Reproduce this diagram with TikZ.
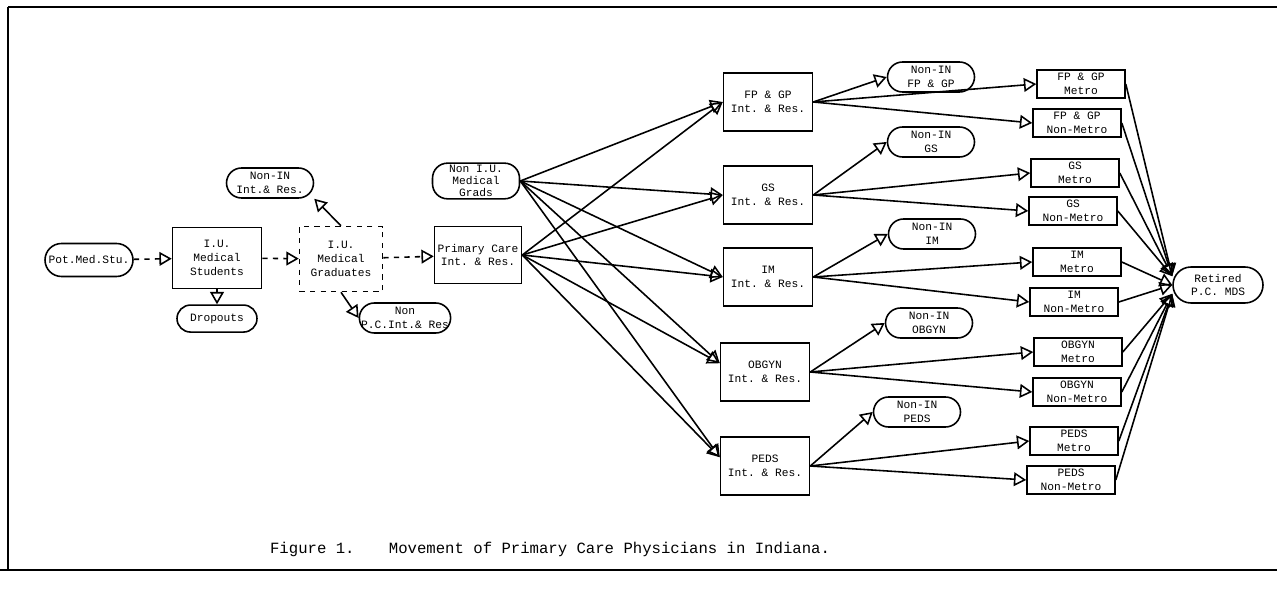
\documentclass[tikz,border=0pt]{standalone}
\usepackage{fontspec}
\setmonofont{Liberation Mono}
\usetikzlibrary{shapes.geometric, arrows, positioning}

\begin{document}
\begin{tikzpicture}[
    x=0.02cm, y=-0.02cm,
    node distance=0.3cm,
    every node/.style={font=\fontsize{6.4}{7.8}\selectfont\ttfamily, align=center, inner sep=1pt},
    box/.style={rectangle, draw, line width=0.9pt, minimum width=1.78cm, minimum height=1.16cm},
    areabox/.style={rectangle, draw, line width=0.9pt, minimum width=1.76cm, minimum height=0.56cm},
    term/.style={rectangle, draw, line width=0.9pt, rounded corners=0.3cm, minimum width=1.74cm, minimum height=0.6cm},
    arrow/.style={line width=0.9pt, -open triangle 60},
    dasharrow/.style={arrow, dashed}
]
\useasboundingbox (0,0) rectangle (1277,597);

% Frame
\draw[line width=1.6pt] (8,7) -- (1277,7);
\draw[line width=1.6pt] (8,7) -- (8,570);
\draw[line width=1.2pt] (0,570) -- (1277,570);

% Students and graduates
\node (potmed) [term, minimum width=1.76cm, minimum height=0.66cm, rounded corners=0.33cm] at (89,260) {Pot.Med.Stu.};
\node (iustud) [box, minimum height=1.22cm] at (217,258) {I.U.\\Medical\\Students};
\node (dropouts) [term, below=of iustud, minimum width=1.6cm, minimum height=0.54cm, rounded corners=0.27cm] {Dropouts};
\node (noninres) [term] at (270,183) {Non-IN\\Int.\& Res.};
\node (iugrad) [box, dashed, minimum width=1.66cm, minimum height=1.3cm] at (341,259) {I.U.\\Medical\\Graduates};
\node (nonpc) [term] at (405,318) {Non\\P.C.Int.\& Res};
\node (nongrad) [term, minimum height=0.64cm, font=\fontsize{6.4}{7}\selectfont\ttfamily] at (476,181) {Non I.U.\\Medical\\Grads};
\node (primcare) [box, minimum width=1.74cm, minimum height=1.14cm] at (478,255) {Primary Care\\Int. \& Res.};

% Internships and residencies
\node (fpgp) [box] at (768,102) {FP \& GP\\Int. \& Res.};
\node (gs) [box] at (768,195) {GS\\Int. \& Res.};
\node (im) [box] at (768,277) {IM\\Int. \& Res.};
\node (obgyn) [box] at (765,372) {OBGYN\\Int. \& Res.};
\node (peds) [box] at (765,466) {PEDS\\Int. \& Res.};

% Leaving the state
\node (nonfpgp) [term] at (931,77) {Non-IN\\FP \& GP};
\node (nongs) [term] at (931,142) {Non-IN\\GS};
\node (nonim) [term] at (932,234) {Non-IN\\IM};
\node (nonobgyn) [term] at (929,323) {Non-IN\\OBGYN};
\node (nonpeds) [term] at (917,412) {Non-IN\\PEDS};

% Practice locations
\node (fpgpm) [areabox] at (1081,84) {FP \& GP\\Metro};
\node (fpgpn) [areabox] at (1077,123) {FP \& GP\\Non-Metro};
\node (gsm) [areabox] at (1075,173) {GS\\Metro};
\node (gsn) [areabox] at (1073,211) {GS\\Non-Metro};
\node (imm) [areabox] at (1077,262) {IM\\Metro};
\node (imn) [areabox] at (1074,302) {IM\\Non-Metro};
\node (obgynm) [areabox] at (1078,352) {OBGYN\\Metro};
\node (obgynn) [areabox] at (1077,392) {OBGYN\\Non-Metro};
\node (pedsm) [areabox] at (1074,441) {PEDS\\Metro};
\node (pedsn) [areabox] at (1071,480) {PEDS\\Non-Metro};
\node (retired) [term, minimum width=1.8cm, minimum height=0.72cm, rounded corners=0.36cm] at (1218,285) {Retired\\P.C. MDS};

\node (caption) [anchor=west, font=\fontsize{8.9}{10}\selectfont\ttfamily] at (268,549) {Figure 1.\hspace{2.2em}Movement of Primary Care Physicians in Indiana.};

% Connections
\draw [dasharrow] (potmed) -- (iustud);
\draw [dasharrow] (iustud) -- (dropouts);
\draw [dasharrow] (iustud) -- (iugrad);
\draw [arrow] (iugrad.north) -- (noninres.south east);
\draw [arrow] (iugrad.south) -- (nonpc.west);
\draw [dasharrow] (iugrad) -- (primcare);

\draw [arrow] (primcare.east) -- (fpgp.west);
\draw [arrow] (primcare.east) -- (gs.west);
\draw [arrow] (primcare.east) -- (im.west);
\draw [arrow] (primcare.east) -- ([yshift=5pt]obgyn.west);
\draw [arrow] (primcare.east) -- ([yshift=5pt]peds.west);
\draw [arrow] (nongrad.east) -- (fpgp.west);
\draw [arrow] (nongrad.east) -- (gs.west);
\draw [arrow] (nongrad.east) -- (im.west);
\draw [arrow] (nongrad.east) -- ([yshift=5pt]obgyn.west);
\draw [arrow] (nongrad.east) -- ([yshift=5pt]peds.west);

\draw [arrow] (fpgp.east) -- (nonfpgp.west);
\draw [arrow] (fpgp.east) -- (fpgpm.west);
\draw [arrow] (fpgp.east) -- (fpgpn.west);
\draw [arrow] (gs.east) -- (nongs.west);
\draw [arrow] (gs.east) -- (gsm.west);
\draw [arrow] (gs.east) -- (gsn.west);
\draw [arrow] (im.east) -- (nonim.west);
\draw [arrow] (im.east) -- (imm.west);
\draw [arrow] (im.east) -- (imn.west);
\draw [arrow] (obgyn.east) -- (nonobgyn.west);
\draw [arrow] (obgyn.east) -- (obgynm.west);
\draw [arrow] (obgyn.east) -- (obgynn.west);
\draw [arrow] (peds.east) -- (nonpeds.west);
\draw [arrow] (peds.east) -- (pedsm.west);
\draw [arrow] (peds.east) -- (pedsn.west);

\draw [arrow] (fpgpm.east) -- ([yshift=5pt]retired.west);
\draw [arrow] (fpgpn.east) -- ([yshift=5pt]retired.west);
\draw [arrow] (gsm.east) -- ([yshift=5pt]retired.west);
\draw [arrow] (gsn.east) -- ([yshift=5pt]retired.west);
\draw [arrow] (imm.east) -- (retired.west);
\draw [arrow] (imn.east) -- (retired.west);
\draw [arrow] (obgynm.east) -- ([yshift=-5pt]retired.west);
\draw [arrow] (obgynn.east) -- ([yshift=-5pt]retired.west);
\draw [arrow] (pedsm.east) -- ([yshift=-5pt]retired.west);
\draw [arrow] (pedsn.east) -- ([yshift=-5pt]retired.west);

\end{tikzpicture}
\end{document}
